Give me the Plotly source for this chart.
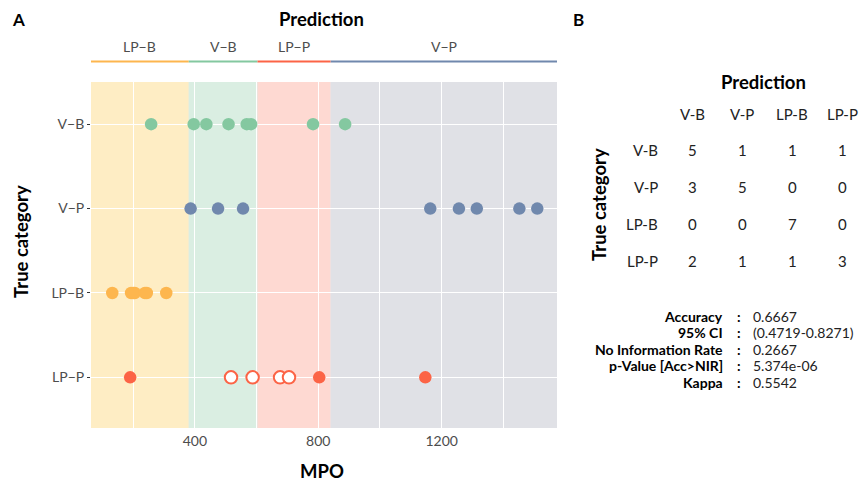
import plotly.graph_objects as go

W, H = 859, 484
def px(x): return x / W
def py(y): return 1 - y / H

# ---- data ----
categories = ["LP\u2212P", "LP\u2212B", "V\u2212P", "V\u2212B"]  # bottom to top
vb_mpo = [258, 396, 437, 509, 568, 582, 783, 887]
vp_mpo = [386, 475, 556, 1163, 1256, 1314, 1452, 1510]
lpb_mpo = [132, 193, 200, 205, 238, 244, 307]
lpp_filled_mpo = [190, 803, 1147]
lpp_open_mpo = [517, 587, 676, 705]

band_names = ["LP\u2212B", "V\u2212B", "LP\u2212P", "V\u2212P"]
band_edges = [63, 380, 603, 840, 1574]
band_fill = ["#FEEDC4", "#DAEEE2", "#FED9D2", "#E0E1E6"]
band_line = ["#FDB64E", "#84C8A0", "#FC6446", "#7088AD"]

cm_cols = ["V-B", "V-P", "LP-B", "LP-P"]
cm_rows = ["V-B", "V-P", "LP-B", "LP-P"]
cm_vals = [[5, 1, 1, 1],
           [3, 5, 0, 0],
           [0, 0, 7, 0],
           [2, 1, 1, 3]]
stat_names = ["Accuracy", "95% CI", "No Information Rate", "p-Value [Acc>NIR]", "Kappa"]
stat_vals = ["0.6667", "(0.4719-0.8271)", "0.2667", "5.374e-06", "0.5542"]

FONT = "Lato"
fig = go.Figure()

def add_pts(xs, yi, color, fill=None):
    fig.add_trace(go.Scatter(
        x=xs, y=[yi] * len(xs), mode="markers", showlegend=False,
        marker=dict(size=12.5, color=fill if fill else color,
                    line=dict(color=color, width=2 if fill else 0))))

add_pts(vb_mpo, 3, "#84C8A0")
add_pts(vp_mpo, 2, "#7088AD")
add_pts(lpb_mpo, 1, "#FDB64E")
add_pts(lpp_filled_mpo, 0, "#FC6446")
add_pts(lpp_open_mpo, 0, "#FC6446", fill="white")

shapes = []
annotations = []
PL, PR, PT, PB = 91, 557, 82, 428
xr = [63, 1574]

def xpix(v):
    return PL + (v - xr[0]) / (xr[1] - xr[0]) * (PR - PL)

def ann(text, x, y, size, color="black", xa="center", ya="middle", angle=0):
    annotations.append(dict(text=text, x=px(x), y=py(y), xref="paper", yref="paper",
                            xanchor=xa, yanchor=ya, showarrow=False, textangle=angle,
                            font=dict(family=FONT, size=size, color=color)))

for i in range(4):
    a, b = band_edges[i], band_edges[i + 1]
    shapes.append(dict(type="rect", xref="x", yref="y domain", x0=a, x1=b, y0=0, y1=1,
                       fillcolor=band_fill[i], line=dict(width=0), layer="below"))
    shapes.append(dict(type="line", xref="paper", yref="paper",
                       x0=px(xpix(a)), x1=px(xpix(b)), y0=py(61.5), y1=py(61.5),
                       line=dict(color=band_line[i], width=2)))
    ann(band_names[i], (xpix(a) + xpix(b)) / 2, 47, 14, "#4D4D4D")

# panel A titles
ann("<b>A</b>", 18, 19, 17)
ann("<b>B</b>", 578, 19, 17)
ann("<b>Prediction</b>", 321, 19, 18.5)
ann("<b>MPO</b>", 322, 471, 18.5)
ann("<b>True category</b>", 21, 242, 18.5, angle=-90)

# panel B
ann("<b>Prediction</b>", 763, 82, 18.5)
ann("<b>True category</b>", 599, 205, 18.5, angle=-90)
col_x = [692, 742, 792, 842]
row_y = [150, 187, 224, 261]
for j, c in enumerate(cm_cols):
    ann(c, col_x[j], 114, 15, "#222")
for i, r in enumerate(cm_rows):
    ann(r, 660, row_y[i], 15, "#222", xa="right")
    for j in range(4):
        ann(str(cm_vals[i][j]), col_x[j], row_y[i], 15, "#222")
stat_y = [316, 332.5, 349, 365.5, 382]
for k in range(5):
    ann("<b>" + stat_names[k] + "</b>", 725, stat_y[k], 14, xa="right")
    ann("<b>:</b>", 739, stat_y[k], 14)
    ann(stat_vals[k], 751, stat_y[k], 14, "#222", xa="left")

fig.update_layout(
    width=W, height=H, margin=dict(l=0, r=0, t=0, b=0),
    paper_bgcolor="white", plot_bgcolor="#EBEBEB",
    shapes=shapes, annotations=annotations, showlegend=False,
    xaxis=dict(domain=[px(PL), px(PR)], range=xr, tickvals=[400, 800, 1200],
               showgrid=True, gridcolor="white", gridwidth=1.4,
               minor=dict(tickvals=[200, 600, 1000, 1400], showgrid=True, gridcolor="white", gridwidth=0.7),
               zeroline=False, ticks="", tickfont=dict(family=FONT, size=14, color="#4D4D4D"),
               ticklabelstandoff=3),
    yaxis=dict(domain=[py(PB), py(PT)], range=[-0.6, 3.5], tickvals=[0, 1, 2, 3],
               ticktext=categories, showgrid=True, gridcolor="white", gridwidth=1.4,
               zeroline=False, ticks="outside", ticklen=3, tickcolor="#333", tickwidth=1.2,
               tickfont=dict(family=FONT, size=14, color="#4D4D4D")),
)

fig.write_html("out.html", config={"displayModeBar": False},
               post_script="document.body.style.margin='0';document.body.style.overflow='hidden';")
